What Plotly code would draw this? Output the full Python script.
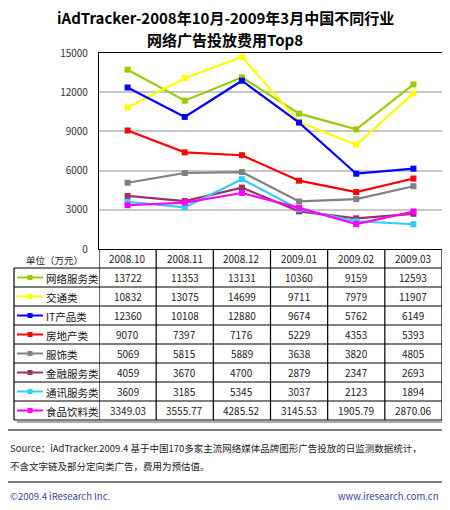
import plotly.graph_objects as go

months = ["2008.10", "2008.11", "2008.12", "2009.01", "2009.02", "2009.03"]
names = ["网络服务类", "交通类", "IT产品类", "房地产类", "服饰类", "金融服务类", "通讯服务类", "食品饮料类"]
wangluo = [13722, 11353, 13131, 10360, 9159, 12593]
jiaotong = [10832, 13075, 14699, 9711, 7979, 11907]
it_chanpin = [12360, 10108, 12880, 9674, 5762, 6149]
fangdichan = [9070, 7397, 7176, 5229, 4353, 5393]
fushi = [5069, 5815, 5889, 3638, 3820, 4805]
jinrong = [4059, 3670, 4700, 2879, 2347, 2693]
tongxun = [3609, 3185, 5345, 3037, 2123, 1894]
shipin = [3349.03, 3555.77, 4285.52, 3145.53, 1905.79, 2870.06]
series = [wangluo, jiaotong, it_chanpin, fangdichan, fushi, jinrong, tongxun, shipin]
colors = ["#99CC00", "#FFFF00", "#0000FF", "#FF0000", "#808080", "#993366", "#33CCFF", "#FF00FF"]
yticks = [0, 3000, 6000, 9000, 12000, 15000]

# the page body has an 8px margin, so the figure sits at (8, 8) in the window
OFF = 8
W, H = 450 - OFF, 510 - OFF
L, R, T, B = 99 - OFF, 8, 53 - OFF, 261
PW, PH = W - L - R, H - T - B
FONT = "Noto Sans CJK SC"


def px(p):
    # window pixel x -> paper
    return (p - OFF - L) / PW


def py(p):
    # window pixel y -> paper
    return (T + PH - (p - OFF)) / PH


def label(text, x, y, xref="paper", xanchor="center", size=10, color="#222"):
    return dict(text=text, xref=xref, yref="paper", x=x, y=y, xanchor=xanchor, yanchor="middle",
                showarrow=False, font=dict(size=size, color=color))


fig = go.Figure()
for name, vals, c in zip(names, series, colors):
    fig.add_trace(go.Scatter(x=list(range(len(months))), y=vals, name=name, mode="lines+markers",
                             line=dict(color=c, width=2.2),
                             marker=dict(symbol="square", size=6, color=c),
                             cliponaxis=False, showlegend=False))

shapes = []
ann = []
blk = dict(color="black", width=1.2)

# table grid
row0, rowh = 268, 19
nrows = len(names)
bottom = row0 + rowh * nrows
# shadow
shapes.append(dict(type="line", xref="paper", yref="paper", x0=px(17), x1=px(444), y0=py(bottom + 2), y1=py(bottom + 2),
                   line=dict(color="#AAAAAA", width=2)))
shapes.append(dict(type="line", xref="paper", yref="paper", x0=px(444), x1=px(444), y0=py(row0 + 2), y1=py(bottom + 2),
                   line=dict(color="#AAAAAA", width=2)))
for k in range(nrows + 1):
    yk = py(row0 + rowh * k)
    shapes.append(dict(type="line", xref="paper", yref="paper", x0=px(14), x1=1, y0=yk, y1=yk, line=blk))
shapes.append(dict(type="line", xref="paper", yref="paper", x0=px(14), x1=px(14), y0=py(row0), y1=py(bottom), line=blk))
for i in range(len(months) + 1):
    shapes.append(dict(type="line", xref="x", yref="paper", x0=i - 0.5, x1=i - 0.5, y0=0, y1=py(bottom), line=blk))

ann.append(label("单位（万元）", px(54), py(row0 - rowh / 2 + 1.5), size=9.5))
for i, m in enumerate(months):
    ann.append(label(m, i, py(row0 - rowh / 2), xref="x"))

for k, (name, vals, c) in enumerate(zip(names, series, colors)):
    yc = py(row0 + rowh * k + rowh / 2)
    shapes.append(dict(type="line", xref="paper", yref="paper", x0=px(17), x1=px(43), y0=yc, y1=yc,
                       line=dict(color=c, width=2)))
    shapes.append(dict(type="rect", xref="paper", yref="paper", x0=px(27.5), x1=px(32.5),
                       y0=yc - 2.5 / PH, y1=yc + 2.5 / PH, line=dict(width=0), fillcolor=c))
    ann.append(label(name, px(44), yc - 1 / PH, xanchor="left", size=10.5, color="#111"))
    for i, v in enumerate(vals):
        ann.append(label(f"{v:g}", i, yc, xref="x"))

# separators and notes
for yl in (430, 482):
    shapes.append(dict(type="line", xref="paper", yref="paper", x0=px(8), x1=px(445), y0=py(yl), y1=py(yl),
                       line=dict(color="black", width=1.2)))
ann.append(label("Source：iAdTracker.2009.4 基于中国170多家主流网络媒体品牌图形广告投放的日监测数据统计，",
                 px(8), py(448), xanchor="left", size=9.5))
ann.append(label("不含文字链及部分定向类广告，费用为预估值。", px(8), py(466), xanchor="left", size=9.5))
ann.append(label("©2009.4 iResearch Inc.", px(8), py(496), xanchor="left", size=9.5, color="#3344AA"))
ann.append(label("www.iresearch.com.cn", px(440), py(496), xanchor="right", size=9.5, color="#3344AA"))

# title
ann.append(label("<b>iAdTracker-2008年10月-2009年3月中国不同行业</b>", px(225), py(18), size=15, color="black"))
ann.append(label("<b>网络广告投放费用Top8</b>", px(225), py(40), size=15, color="black"))

fig.update_layout(
    width=W, height=H, margin=dict(l=L, r=R, t=T, b=B),
    paper_bgcolor="white", plot_bgcolor="white",
    font=dict(family=FONT, size=10, color="#222"),
    shapes=shapes, annotations=ann,
    xaxis=dict(range=[-0.5, len(months) - 0.5], showticklabels=False, showgrid=False, zeroline=False,
               showline=True, linecolor="black", linewidth=1.2, mirror=True, fixedrange=True),
    yaxis=dict(range=[0, 15000], tickvals=yticks, tickformat="d", showgrid=True, gridcolor="#C8C8C8",
               gridwidth=2, zeroline=False, showline=True, linecolor="black", linewidth=1.2, mirror=True,
               ticks="", ticklabelstandoff=8, tickfont=dict(size=10, color="#333"), fixedrange=True),
)

fig.write_html("out.html")
